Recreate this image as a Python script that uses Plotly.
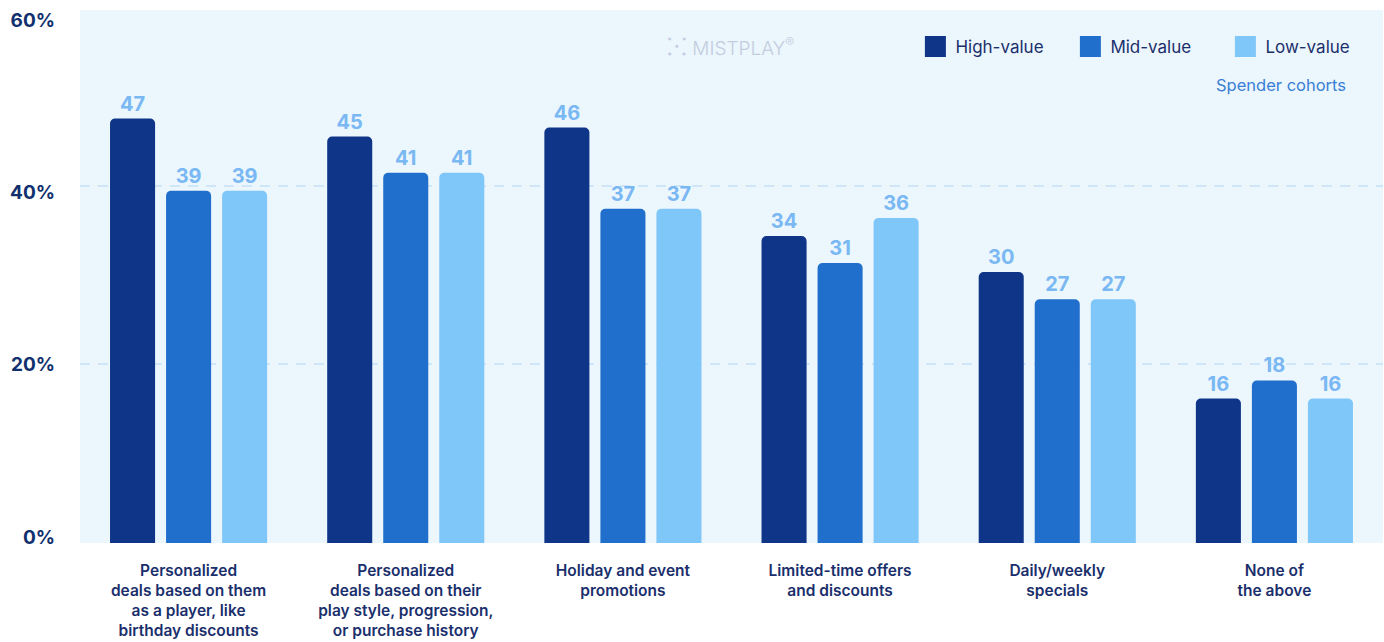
import plotly.graph_objects as go

categories = [
    "Personalized<br>deals based on them<br>as a player, like<br>birthday discounts",
    "Personalized<br>deals based on their<br>play style, progression,<br>or purchase history",
    "Holiday and event<br>promotions",
    "Limited-time offers<br>and discounts",
    "Daily/weekly<br>specials",
    "None of<br>the above",
]
series_names = ["High-value", "Mid-value", "Low-value"]
high_value = [47, 45, 46, 34, 30, 16]
mid_value = [39, 41, 37, 31, 27, 18]
low_value = [39, 41, 37, 36, 27, 16]
tick_values = [0, 20, 40, 60]
tick_labels = ["0%", "20%", "40%", "60%"]

colors = ["#0E3587", "#216FCC", "#80C7F9"]
FONT = "Inter"
NAVY = "#13306F"

fig = go.Figure()
for name, vals, col in zip(series_names, [high_value, mid_value, low_value], colors):
    fig.add_trace(go.Bar(
        x=categories, y=vals, name=name, marker=dict(color=col, line=dict(width=0)),
        text=[str(v) for v in vals], textposition="outside", cliponaxis=False,
        constraintext="none",
        textfont=dict(family=FONT, size=20, color="#7AB8F3", weight=700),
        showlegend=False, hoverinfo="x+y",
    ))
# legend entries (big square swatches)
for name, col in zip(series_names, colors):
    fig.add_trace(go.Scatter(
        x=[None], y=[None], mode="markers", name=name,
        marker=dict(symbol="square", size=16, color=col, line=dict(color=col, width=5)),
        showlegend=True, hoverinfo="skip",
    ))
# empty traces to hold helper axes
fig.add_trace(go.Scatter(x=[], y=[], yaxis="y2", showlegend=False, hoverinfo="skip"))
fig.add_trace(go.Scatter(x=[], y=[], yaxis="y3", showlegend=False, hoverinfo="skip"))

fig.update_layout(
    width=1384, height=642,
    margin=dict(l=80, r=1, t=10, b=99),
    paper_bgcolor="white", plot_bgcolor="#EBF6FD",
    font=dict(family=FONT, color=NAVY),
    barmode="group", bargap=0.226, bargroupgap=0.196, barcornerradius=5,
    xaxis=dict(
        tickfont=dict(family=FONT, size=15.5, color="#1A2F6C", weight=600),
        showline=False, ticks="", showgrid=False, ticklabelstandoff=16,
    ),
    yaxis=dict(range=[0, 59.02], showgrid=False, showticklabels=False,
               zeroline=False, ticks=""),
    yaxis2=dict(range=[-0.11, 59.78], overlaying="y", side="left",
                tickvals=[20, 40], showticklabels=False, ticks="",
                showgrid=True, gridcolor="#CFE6F8", gridwidth=2,
                griddash="10px,8px", zeroline=False),
    yaxis3=dict(range=[-0.70, 61.16], overlaying="y", side="left",
                tickvals=tick_values, ticktext=tick_labels, showgrid=False,
                zeroline=False, ticks="", ticklabelstandoff=24,
                tickfont=dict(family=FONT, size=19, color="#10306E", weight=700)),
    legend=dict(
        orientation="h", x=0.998, xanchor="right", y=0.9306, yanchor="middle",
        bgcolor="rgba(0,0,0,0)", font=dict(family=FONT, size=17, color="#1C2F6B"),
        itemclick=False, entrywidth=110, entrywidthmode="pixels",
    ),
    showlegend=True,
)

fig.add_annotation(
    text="Spender cohorts", xref="paper", yref="paper",
    x=(1348 - 80) / 1303, y=(543 - 85) / 533, xanchor="right", yanchor="middle",
    showarrow=False, font=dict(family=FONT, size=16.5, color="#3B7FD6"),
)
fig.add_annotation(
    text="<span style='font-size:24px'>⁙</span> MISTPLAY<sup>®</sup>",
    xref="paper", yref="paper",
    x=(730 - 80) / 1303, y=(543 - 47) / 533, xanchor="center", yanchor="middle",
    showarrow=False, font=dict(family=FONT, size=19, color="#C3CDE0", weight=300),
)

fig.write_html("out.html")
